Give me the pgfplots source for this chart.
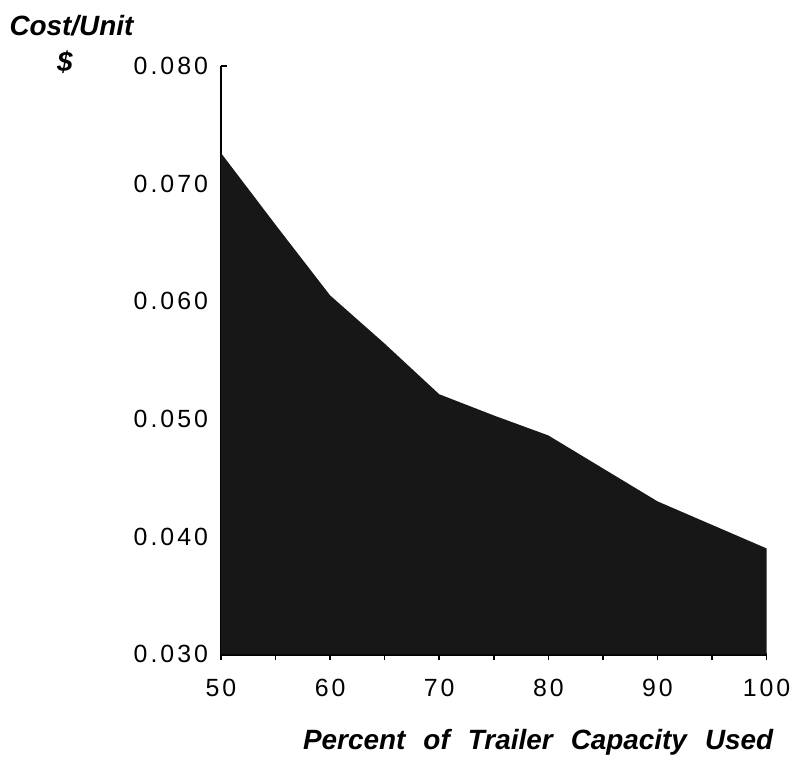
\documentclass[border=0pt]{standalone}
\usepackage{fontspec}
\setmainfont{Liberation Sans}
\newfontfamily\tickfont[LetterSpace=12]{Liberation Sans}
\usepackage{pgfplots}
\pgfplotsset{compat=1.18}
\begin{document}
\begin{tikzpicture}
\begin{axis}[
  scale only axis,
  width=274pt, height=295.5pt,
  xmin=50, xmax=100, ymin=0.03, ymax=0.08,
  axis x line*=bottom, axis y line*=left,
  axis line style={-, line width=1.2pt, black},
  xtick={50,60,70,80,90,100},
  xticklabels={50,60,70,80,90,100},
  minor xtick={55,65,75,85,95},
  ytick={0.03,0.04,0.05,0.06,0.07,0.08},
  yticklabels={0.030,0.040,0.050,0.060,0.070,0.080},
  scaled y ticks=false,
  tick style={black, line width=0.8pt},
  xtick align=outside, ytick align=inside,
  major tick length=3pt, minor tick length=3pt,
  xticklabel style={font=\tickfont\fontsize{12.5}{14}\selectfont, yshift=-6pt},
  yticklabel style={font=\tickfont\fontsize{12.5}{14}\selectfont, xshift=-3pt},
  clip=false,
]
\addplot[draw=none, fill=black!91] coordinates {
 (50,0.0726) (55,0.0665) (60,0.0605) (65,0.0564) (70,0.0521)
 (75,0.0503) (80,0.0486) (85,0.0458) (90,0.0430) (95,0.0410) (100,0.0390)
} \closedcycle;
\path (rel axis cs:-0.405,-0.181) rectangle (rel axis cs:1.049,1.112);
\node[font=\bfseries\itshape\fontsize{14}{16}\selectfont] at (rel axis cs:-0.274,1.069) {Cost/Unit};
\node[font=\bfseries\itshape\fontsize{14}{16}\selectfont] at (rel axis cs:-0.286,1.007) {\$};
\node[font=\bfseries\itshape\fontsize{14}{16}\selectfont, anchor=east, inner sep=0pt] at (rel axis cs:1.013,-0.149) {Percent\hspace{0.65em}of\hspace{0.65em}Trailer\hspace{0.65em}Capacity\hspace{0.65em}Used};
\end{axis}
\end{tikzpicture}
\end{document}
